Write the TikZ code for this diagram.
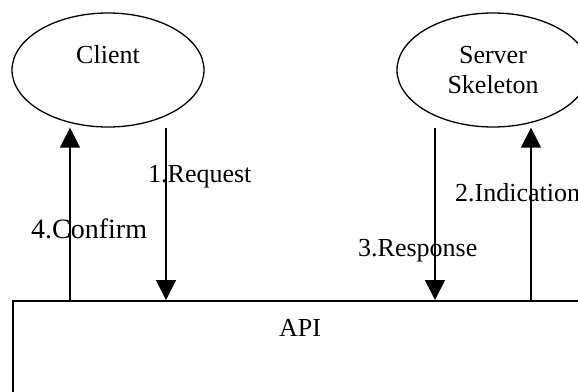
\documentclass[tikz,border=0pt]{standalone}
\usepackage{fontspec}
\setmainfont{Liberation Serif}
\usetikzlibrary{shapes.geometric,arrows.meta}
\begin{document}
\begin{tikzpicture}[x=1pt,y=-1pt,
  every node/.style={font=\fontsize{26}{30}\selectfont},
  oval/.style={draw,ellipse,line width=1.3pt,minimum width=192pt,minimum height=114pt,inner sep=0pt},
  lbl/.style={inner sep=0pt},
  arr/.style={line width=1.5pt,-{Triangle[width=20pt,length=20pt]}}]
\useasboundingbox (0,0) rectangle (578,391);
\clip (0,0) rectangle (578,391);
\node[oval] (client) at (108,70) {};
\node[oval] (server) at (493,70) {};
\node[draw,line width=1.5pt,anchor=north west,minimum width=620pt,minimum height=140pt,inner sep=0pt] (api) at (12,300) {};
\node[lbl,anchor=base] (tclient) at (108,63) {Client};
\node[lbl,anchor=base] (tserver) at (493,63) {Server};
\node[lbl,anchor=base] (tskel) at (493,93) {Skeleton};
\node[lbl,anchor=base] (tapi) at (300,336) {API};
\node[lbl,anchor=base west] (treq) at (148,182) {1.Request};
\node[lbl,anchor=base west] (tind) at (455,201) {2.Indication};
\node[lbl,anchor=base west] (tres) at (358,256) {3.Response};
\node[lbl,anchor=base west,font=\fontsize{28}{32}\selectfont] (tcon) at (31,238) {4.Confirm};
\coordinate (x4) at (70,0);
\coordinate (x1) at (166,0);
\coordinate (x3) at (435,0);
\coordinate (x2) at (531,0);
\draw[arr] (api.north -| x4) -- (client.south -| x4);
\draw[arr] (client.south -| x1) -- (api.north -| x1);
\draw[arr] (server.south -| x3) -- (api.north -| x3);
\draw[arr] (api.north -| x2) -- (server.south -| x2);
\end{tikzpicture}
\end{document}
